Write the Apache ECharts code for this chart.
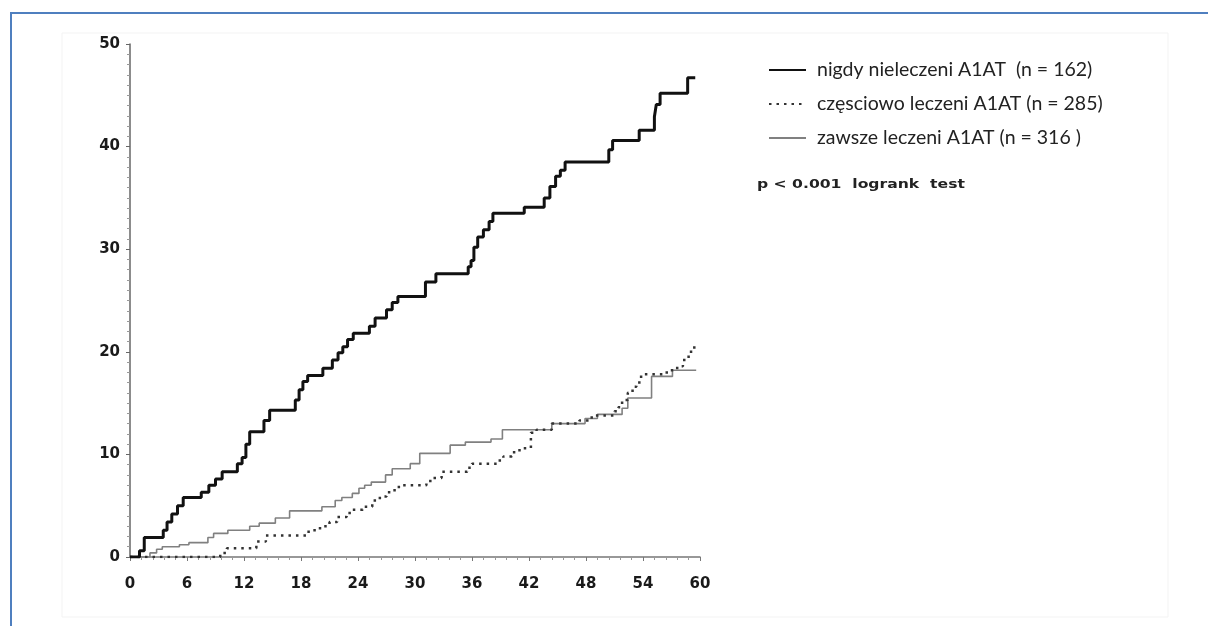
<!doctype html>
<html lang="pl">
  <head>
    <meta charset="UTF-8" />
    <title>Krzywe skumulowane - A1AT</title>
    <script src="https://cdn.jsdelivr.net/npm/echarts@6/dist/echarts.min.js"></script>
    <style>
      html, body { margin: 0; padding: 0; background: #fff; }
      #chart { width: 1208px; height: 626px; }
    </style>
  </head>
  <body>
    <div id="chart"></div>
    <script>
      // month ticks on x, percent on y
      const xTicks = [0, 6, 12, 18, 24, 30, 36, 42, 48, 54, 60];
      const yTicks = [0, 10, 20, 30, 40, 50];

      const seriesNames = [
        'nigdy nieleczeni A1AT  (n = 162)',
        'częsciowo leczeni A1AT (n = 285)',
        'zawsze leczeni A1AT (n = 316 )'
      ];

      // [month, value] where the step starts
      const neverTreated = [
        [0, 0], [1.0, 0.6], [1.5, 1.9], [3.5, 2.6], [3.9, 3.4], [4.4, 4.2], [5.0, 5.0],
        [5.6, 5.8], [7.5, 6.3], [8.3, 7.0], [9.0, 7.6], [9.7, 8.3], [11.3, 9.1],
        [11.8, 9.7], [12.2, 11.0], [12.6, 12.2], [14.1, 13.3], [14.7, 14.3], [17.4, 15.3],
        [17.8, 16.3], [18.2, 17.1], [18.7, 17.7], [20.3, 18.4], [21.3, 19.2], [21.9, 19.9],
        [22.4, 20.5], [22.9, 21.2], [23.5, 21.8], [25.2, 22.5], [25.8, 23.3], [27.0, 24.1],
        [27.6, 24.8], [28.2, 25.4], [31.1, 26.8], [32.2, 27.6], [35.6, 28.3], [35.9, 28.9],
        [36.2, 30.2], [36.6, 31.2], [37.2, 31.9], [37.8, 32.7], [38.2, 33.5], [41.5, 34.1],
        [43.6, 35.0], [44.2, 36.1], [44.8, 37.1], [45.3, 37.7], [45.8, 38.5], [50.4, 39.7],
        [50.8, 40.6], [53.6, 41.6], [55.2, 42.9], [55.4, 44.1], [55.8, 45.2], [58.7, 46.7],
        [59.5, 46.7]
      ];
      const partlyTreated = [
        [0, 0], [9.5, 0.4], [10.2, 0.85], [13.3, 1.5], [14.3, 2.1], [18.8, 2.6], [20.0, 3.0],
        [21.0, 3.4], [21.8, 3.9], [22.8, 4.3], [23.3, 4.6], [24.5, 4.9], [25.5, 5.5],
        [26.3, 5.9], [27.0, 6.3], [27.7, 6.5], [28.3, 7.0], [31.2, 7.4], [31.8, 7.7],
        [32.8, 8.3], [35.5, 8.7], [36.0, 9.1], [38.6, 9.4], [39.3, 9.8], [40.2, 10.2],
        [41.0, 10.6], [42.2, 12.1], [42.8, 12.4], [44.4, 13.0], [47.3, 13.3], [48.6, 13.8],
        [51.0, 14.2], [51.4, 14.6], [51.8, 15.3], [52.4, 16.0], [52.9, 16.6], [53.3, 17.0],
        [53.8, 17.8], [56.5, 18.2], [57.6, 18.6], [58.2, 19.2], [58.8, 20.0], [59.4, 20.7]
      ];
      const alwaysTreated = [
        [0, 0], [2.1, 0.4], [2.8, 0.75], [3.4, 1.0], [5.2, 1.2], [6.2, 1.4], [8.2, 1.9],
        [8.8, 2.3], [10.3, 2.6], [12.6, 3.0], [13.6, 3.3], [15.3, 3.8], [16.8, 4.5],
        [20.2, 4.9], [21.6, 5.5], [22.3, 5.8], [23.4, 6.2], [24.1, 6.7], [24.7, 7.0],
        [25.4, 7.3], [26.9, 8.0], [27.6, 8.6], [29.5, 9.1], [30.5, 10.1], [33.7, 10.9],
        [35.3, 11.2], [38.0, 11.5], [39.2, 12.4], [44.4, 13.0], [47.9, 13.5], [49.2, 13.9],
        [51.8, 14.5], [52.4, 15.5], [54.9, 17.6], [57.1, 18.2], [59.6, 18.2]
      ];

      const chart = echarts.init(document.getElementById('chart'), null, { renderer: 'canvas' });

      const tickFont = {
        fontFamily: 'DejaVu Sans',
        fontWeight: 'bold',
        fontSize: 15,
        color: '#1a1a1a'
      };

      const option = {
        animation: false,
        backgroundColor: '#fff',
        grid: { left: 130, right: 508, top: 44, bottom: 69 },
        xAxis: {
          type: 'value',
          min: xTicks[0],
          max: xTicks[xTicks.length - 1],
          interval: 6,
          offset: 10,
          axisLine: { show: true, lineStyle: { color: '#777', width: 1.5 } },
          axisTick: { show: true, length: 4, lineStyle: { color: '#777' } },
          minorTick: { show: true, splitNumber: 5, length: 3, lineStyle: { color: '#999' } },
          splitLine: { show: false },
          axisLabel: Object.assign({ margin: 10 }, tickFont)
        },
        yAxis: {
          type: 'value',
          min: yTicks[0],
          max: yTicks[yTicks.length - 1],
          interval: 10,
          offset: 3,
          axisLine: { show: true, lineStyle: { color: '#666', width: 1.5 } },
          axisTick: { show: true, length: 4, lineStyle: { color: '#666' } },
          minorTick: { show: true, splitNumber: 10, length: 3, lineStyle: { color: '#999' } },
          splitLine: { show: false },
          axisLabel: Object.assign({ margin: 7 }, tickFont)
        },
        legend: {
          orient: 'vertical',
          left: 763,
          top: 54,
          itemWidth: 37,
          itemHeight: 14,
          itemGap: 12,
          data: seriesNames,
          itemStyle: { opacity: 0 },
          textStyle: {
            fontFamily: 'Lato',
            fontSize: 19.5,
            lineHeight: 22,
            color: '#222',
            padding: [0, 0, 0, 6]
          }
        },
        graphic: [
          {
            type: 'text',
            left: 757,
            top: 179,
            scaleX: 1.3,
            style: {
              text: 'p < 0.001  logrank  test',
              font: 'bold 12px "DejaVu Sans"',
              fill: '#222'
            }
          },
          {
            type: 'rect',
            shape: { x: 62, y: 33, width: 1106, height: 584 },
            style: { fill: 'none', stroke: '#f3f3f3', lineWidth: 1 },
            silent: true
          },
          {
            type: 'polyline',
            shape: { points: [[11, 626], [11, 13], [1208, 13]] },
            style: { fill: 'none', stroke: '#4f7fbf', lineWidth: 2 },
            silent: true
          }
        ],
        series: [
          {
            name: seriesNames[0],
            type: 'line',
            step: 'end',
            symbol: 'none',
            data: neverTreated,
            lineStyle: { color: '#111', width: 3 },
            itemStyle: { color: '#111' },
            z: 3
          },
          {
            name: seriesNames[1],
            type: 'line',
            step: 'end',
            symbol: 'none',
            data: partlyTreated,
            lineStyle: { color: '#333', width: 2.5, type: [2.5, 5] },
            itemStyle: { color: '#555' },
            z: 2
          },
          {
            name: seriesNames[2],
            type: 'line',
            step: 'end',
            symbol: 'none',
            data: alwaysTreated,
            lineStyle: { color: '#808080', width: 1.6 },
            itemStyle: { color: '#808080' },
            z: 1
          }
        ]
      };

      chart.setOption(option);
    </script>
  </body>
</html>
